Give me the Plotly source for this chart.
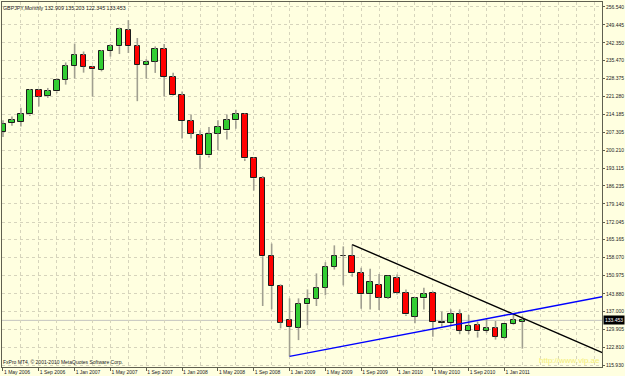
import plotly.graph_objects as go
import pandas as pd

# ---- data (monthly GBPJPY candles, May 2006 .. Mar 2011) ----
months = pd.date_range("2006-05-01", periods=59, freq="MS")
opens = [207.4, 210.9, 211.3, 214.3, 223.9, 221.6, 223.3, 227.9, 233.3, 237.6,
         233.0, 231.8, 239.2, 241.1, 247.4, 241.1, 233.7, 235.0, 240.0, 229.0,
         221.8, 211.7, 206.2, 198.2, 206.8, 208.0, 212.0, 214.3, 197.0, 189.2,
         158.9, 146.9, 133.6, 130.6, 139.7, 142.0, 146.3, 154.5, 158.8, 158.9,
         152.0, 143.7, 147.3, 142.4, 150.0, 144.3, 134.9, 142.1, 144.3, 133.0,
         132.4, 136.0, 129.3, 131.5, 129.3, 130.4, 126.7, 131.9, 132.909]
highs = [212.0, 213.5, 216.9, 224.3, 224.2, 224.7, 228.5, 234.7, 242.1, 239.0,
         233.4, 239.6, 241.9, 248.4, 251.3, 244.3, 236.0, 241.0, 241.9, 230.7,
         223.3, 214.3, 208.1, 209.4, 212.0, 214.3, 216.1, 214.7, 197.4, 190.1,
         163.6, 147.6, 142.1, 142.1, 145.6, 151.9, 156.3, 162.9, 162.5, 163.2,
         154.1, 153.7, 151.7, 151.0, 151.5, 145.6, 142.5, 146.3, 144.9, 136.9,
         137.8, 137.8, 135.6, 133.0, 134.3, 133.2, 132.0, 135.8, 135.203]
lows = [205.4, 209.9, 209.6, 213.7, 217.4, 220.8, 222.6, 226.0, 228.4, 230.7,
        221.3, 231.2, 237.0, 238.0, 238.4, 219.5, 228.3, 230.6, 221.3, 221.6,
        204.8, 204.8, 192.8, 197.4, 200.2, 204.5, 208.7, 196.0, 184.4, 139.1,
        137.8, 130.3, 119.3, 125.7, 131.5, 139.1, 143.3, 153.4, 147.2, 150.6,
        138.0, 137.7, 137.5, 141.8, 143.6, 135.2, 132.3, 137.7, 127.0, 131.0,
        131.2, 128.0, 128.0, 126.7, 128.5, 125.9, 126.3, 131.6, 122.345]
closes = [210.7, 212.0, 214.3, 223.9, 221.3, 223.4, 228.0, 233.3, 237.6, 233.0,
          232.0, 239.2, 241.0, 247.8, 241.1, 233.7, 235.0, 240.0, 229.0, 221.8,
          211.7, 206.8, 198.2, 206.8, 209.5, 212.0, 214.3, 197.0, 189.2, 158.6,
          146.9, 132.6, 130.9, 140.0, 142.0, 146.3, 154.5, 158.9, 158.9, 151.9,
          143.7, 148.6, 142.4, 150.7, 144.3, 135.8, 142.1, 143.7, 132.8, 132.3,
          136.1, 129.3, 131.4, 129.1, 130.3, 127.0, 131.9, 133.5, 133.453]

y_ticks = [256.540, 249.445, 242.350, 235.470, 228.375, 221.280, 214.185,
           207.305, 200.210, 193.115, 186.235, 179.140, 172.045, 165.165,
           158.070, 150.975, 143.880, 137.000, 129.905, 122.810, 115.930]

# trend line anchors: (bar index, price)
trend_black = [(39, 163.2), (56, 137.4)]
trend_blue = [(32, 119.3), (56, 135.43)]

title_text = "GBPJPY,Monthly 132.909 135.203 122.345 133.453"
copyright_text = "FxPro MT4, \u00a9 2001-2010 MetaQuotes Software Corp."
watermark_text = "http://www.vip.ae"

# ---- styling ----
BG = "#FFFFE0"
GRID = "#D6D4BC"
AXIS = "#606050"
UP = "#32CD32"
DOWN = "#FF0000"
WICK = "#A09F90"
FONT = "Liberation Sans"

n = len(months)
idx = list(range(n))
x_min, x_max = -0.111, 66.89
y_min, y_max = 115.15, 258.43

fig = go.Figure()

# wicks (split so they don't cross the body)
wx, wy = [], []
for i in idx:
    lo_b, hi_b = min(opens[i], closes[i]), max(opens[i], closes[i])
    wx += [i, i, None, i, i, None]
    wy += [lows[i], lo_b, None, hi_b, highs[i], None]
fig.add_trace(go.Scatter(x=wx, y=wy, mode="lines",
                         line=dict(color=WICK, width=1.6), hoverinfo="skip"))

# bodies
bases = [min(o, c) for o, c in zip(opens, closes)]
heights = [max(abs(c - o), 0.08) for o, c in zip(opens, closes)]
colors = [UP if c > o else (DOWN if c < o else "#000000") for o, c in zip(opens, closes)]
fig.add_trace(go.Bar(x=idx, y=heights, base=bases, width=0.62,
                     marker=dict(color=colors, line=dict(color="#1c1c1c", width=1))))


def extend(anchors):
    (x0, y0), (x1, y1) = anchors
    slope = (y1 - y0) / (x1 - x0)
    return [x0, x_max + 1], [y0, y0 + slope * (x_max + 1 - x0)]


bx, by = extend(trend_black)
fig.add_trace(go.Scatter(x=bx, y=by, mode="lines", line=dict(color="#000000", width=1.4)))
ux, uy = extend(trend_blue)
fig.add_trace(go.Scatter(x=ux, y=uy, mode="lines", line=dict(color="#0000FF", width=1.4)))

# bid line
fig.add_shape(type="line", xref="paper", x0=0, x1=1, yref="y",
              y0=closes[-1], y1=closes[-1], line=dict(color="#C4C4C0", width=1),
              layer="below")

major = list(range(0, n, 4))
major_text = ["1 " + months[i].strftime("%b %Y") for i in major]
minor_vals = [v for v in range(0, 67, 2) if v not in major]

fig.update_layout(
    width=625, height=376,
    margin=dict(l=1, r=21, t=1, b=8),
    paper_bgcolor=BG, plot_bgcolor=BG,
    showlegend=False, bargap=0,
    font=dict(family=FONT, size=5, color="#222222"),
    xaxis=dict(range=[x_min, x_max], tickmode="array", tickvals=major,
               ticktext=major_text, ticklabelposition="outside right",
               ticks="outside", ticklen=3, tickcolor=AXIS,
               showgrid=True, gridcolor=GRID, griddash="dot", gridwidth=1,
               minor=dict(tickvals=minor_vals, showgrid=True, gridcolor=GRID,
                          griddash="dot", ticks=""),
               showline=True, mirror=True, linecolor=AXIS, linewidth=1,
               zeroline=False, tickfont=dict(size=5, color="#222222")),
    yaxis=dict(range=[y_min, y_max], side="right", tickmode="array",
               tickvals=y_ticks, ticktext=[f"{v:.3f}" for v in y_ticks],
               ticks="outside", ticklen=2, tickcolor=AXIS,
               showgrid=True, gridcolor=GRID, griddash="dot", gridwidth=1,
               showline=True, mirror=True, linecolor=AXIS, linewidth=1,
               zeroline=False, tickfont=dict(size=5, color="#222222")),
)

fig.add_annotation(text=title_text, xref="paper", yref="paper", x=0, y=1,
                   xanchor="left", yanchor="top", xshift=-1, yshift=-1,
                   showarrow=False, font=dict(size=5.3, color="#222222"))
fig.add_annotation(text=copyright_text, xref="paper", yref="paper", x=0, y=0,
                   xanchor="left", yanchor="bottom", xshift=-1, yshift=0,
                   showarrow=False, font=dict(size=5, color="#222222"))
fig.add_annotation(text=watermark_text, xref="paper", yref="paper", x=1, y=0,
                   xanchor="right", yanchor="bottom", xshift=0, yshift=0,
                   showarrow=False, font=dict(size=8, color="#F3EE78"))
fig.add_annotation(text=f"{closes[-1]:.3f}", xref="paper", yref="y", x=1,
                   y=closes[-1], xanchor="left", yanchor="middle", xshift=1,
                   showarrow=False, bgcolor="#000000", borderpad=1,
                   font=dict(size=5, color="#FFFFFF"))

fig.write_html("out.html")
